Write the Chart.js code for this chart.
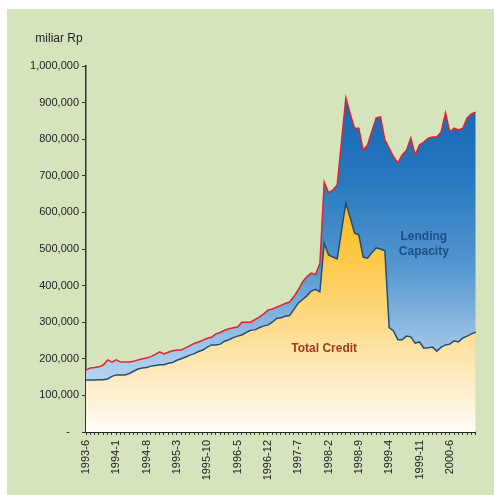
<!DOCTYPE html>
<html>
<head>
    <title>Total Credit and Lending Capacity</title>
    <script src="https://cdn.jsdelivr.net/npm/chart.js"></script>
    <style>
        body {
            margin: 0;
            padding: 0;
            background-color: #ffffff;
        }
        #wrap {
            position: relative;
            width: 494px;
            height: 495px;
        }
    </style>
</head>
<body>
    <div id="wrap">
        <canvas id="creditChart" width="494" height="495"></canvas>
    </div>

    <script>
        // monthly, 1993-6 .. 2000-12
        var months = [
            '1993-6','1993-7','1993-8','1993-9','1993-10','1993-11','1993-12',
            '1994-1','1994-2','1994-3','1994-4','1994-5','1994-6','1994-7','1994-8','1994-9','1994-10','1994-11','1994-12',
            '1995-1','1995-2','1995-3','1995-4','1995-5','1995-6','1995-7','1995-8','1995-9','1995-10','1995-11','1995-12',
            '1996-1','1996-2','1996-3','1996-4','1996-5','1996-6','1996-7','1996-8','1996-9','1996-10','1996-11','1996-12',
            '1997-1','1997-2','1997-3','1997-4','1997-5','1997-6','1997-7','1997-8','1997-9','1997-10','1997-11','1997-12',
            '1998-1','1998-2','1998-3','1998-4','1998-5','1998-6','1998-7','1998-8','1998-9','1998-10','1998-11','1998-12',
            '1999-1','1999-2','1999-3','1999-4','1999-5','1999-6','1999-7','1999-8','1999-9','1999-10','1999-11','1999-12',
            '2000-1','2000-2','2000-3','2000-4','2000-5','2000-6','2000-7','2000-8','2000-9','2000-10','2000-11','2000-12'
        ];

        // miliar Rp
        var totalCredit = [
            142000,142000,142000,143000,143000,145000,152000,156000,156000,156000,
            160000,166000,172000,175000,176000,180000,182000,184000,184000,188000,
            190000,196000,200000,205000,210000,214000,220000,224000,232000,238000,
            238000,240000,248000,252000,258000,262000,265000,272000,278000,279000,
            285000,290000,292000,300000,310000,312000,316000,318000,335000,352000,
            362000,372000,385000,390000,383000,516000,484000,478000,473000,550000,
            625000,585000,544000,538000,478000,475000,490000,503000,500000,495000,
            285000,276000,252000,252000,262000,260000,243000,246000,229000,230000,
            232000,221000,232000,238000,240000,249000,246000,257000,262000,268000,
            273000
        ];

        var lendingCapacity = [
            169000,175000,176000,178000,183000,197000,191000,197000,191000,191000,
            191000,193000,197000,200000,202000,206000,212000,219000,213000,218000,
            222000,224000,224000,230000,236000,242000,246000,251000,256000,259000,
            268000,272000,278000,282000,285000,287000,300000,300000,300000,307000,
            314000,322000,333000,336000,341000,346000,351000,355000,370000,388000,
            410000,425000,434000,430000,460000,683000,654000,661000,675000,795000,
            913000,870000,830000,830000,770000,784000,822000,858000,861000,798000,
            776000,752000,735000,757000,770000,803000,757000,784000,792000,803000,
            806000,806000,820000,872000,820000,830000,825000,830000,858000,869000,
            874000
        ];

        var labelEvery = 7;

        function creditFill(context) {
            var chart = context.chart;
            var area = chart.chartArea;
            if (!area) return '#ffd060';
            var g = chart.ctx.createLinearGradient(0, area.top, 0, area.bottom);
            g.addColorStop(0, '#ffad00');
            g.addColorStop(0.38, '#ffbb1c');
            g.addColorStop(0.6, '#fed062');
            g.addColorStop(0.78, '#fde3a6');
            g.addColorStop(0.9, '#fef0d2');
            g.addColorStop(1, '#fffdf8');
            return g;
        }

        function capacityFill(context) {
            var chart = context.chart;
            var area = chart.chartArea;
            if (!area) return '#4a90cc';
            var g = chart.ctx.createLinearGradient(0, area.top, 0, area.bottom);
            g.addColorStop(0, '#0f63b0');
            g.addColorStop(0.3, '#2677bf');
            g.addColorStop(0.55, '#5597d0');
            g.addColorStop(0.8, '#a9cbea');
            g.addColorStop(1, '#d6e7f6');
            return g;
        }

        var backdrop = {
            id: 'backdrop',
            beforeDraw: function (chart) {
                var ctx = chart.ctx;
                ctx.save();
                ctx.fillStyle = '#d6e4bd';
                ctx.fillRect(7, 9, chart.width - 7, chart.height - 9);
                ctx.restore();
            },
            afterDraw: function (chart) {
                var ctx = chart.ctx;
                var x = chart.scales.x;
                var y = chart.scales.y;
                ctx.save();
                ctx.fillStyle = '#222222';
                ctx.font = '12px "Liberation Sans", Arial, sans-serif';
                ctx.textAlign = 'center';
                ctx.textBaseline = 'middle';
                ctx.fillText('miliar Rp', 59, 39);

                ctx.font = 'bold 12px "Liberation Sans", Arial, sans-serif';
                ctx.fillStyle = '#1c4f86';
                ctx.fillText('Lending', x.getPixelForValue(78), y.getPixelForValue(535000));
                ctx.fillText('Capacity', x.getPixelForValue(78), y.getPixelForValue(492000));

                ctx.fillStyle = '#a03c1c';
                ctx.fillText('Total Credit', x.getPixelForValue(55), y.getPixelForValue(228000));
                ctx.restore();
            }
        };

        var creditChart = new Chart(document.getElementById('creditChart').getContext('2d'), {
            type: 'line',
            data: {
                labels: months,
                datasets: [{
                    label: 'Total Credit',
                    data: totalCredit,
                    borderColor: '#1d4e7e',
                    borderWidth: 1.5,
                    backgroundColor: creditFill,
                    fill: 'origin',
                    pointRadius: 0,
                    tension: 0
                }, {
                    label: 'Lending Capacity',
                    data: lendingCapacity,
                    borderColor: '#e0242c',
                    borderWidth: 1.5,
                    backgroundColor: capacityFill,
                    fill: 'origin',
                    pointRadius: 0,
                    tension: 0
                }]
            },
            options: {
                responsive: false,
                animation: false,
                layout: {
                    padding: { left: 0, top: 66, right: 18, bottom: 0 }
                },
                plugins: {
                    legend: { display: false },
                    tooltip: { enabled: false },
                    title: { display: false }
                },
                scales: {
                    x: {
                        offset: false,
                        border: { display: true, color: '#222222', width: 2 },
                        grid: {
                            display: true,
                            drawOnChartArea: false,
                            drawTicks: true,
                            tickLength: 3,
                            color: '#333333'
                        },
                        ticks: {
                            autoSkip: false,
                            maxRotation: 90,
                            minRotation: 90,
                            padding: 5,
                            color: '#222222',
                            font: { family: '"Liberation Sans", Arial, sans-serif', size: 11 },
                            callback: function (v, i) {
                                return i % labelEvery === 0 ? months[i] : '';
                            }
                        },
                        afterFit: function (scale) { scale.height = 63; }
                    },
                    y: {
                        min: 0,
                        max: 1000000,
                        border: { display: true, color: '#333333', width: 1.5 },
                        grid: {
                            display: true,
                            drawOnChartArea: false,
                            drawTicks: true,
                            tickLength: 4,
                            color: '#333333'
                        },
                        ticks: {
                            stepSize: 100000,
                            padding: 3,
                            color: '#222222',
                            font: { family: '"Liberation Sans", Arial, sans-serif', size: 11 },
                            callback: function (v) {
                                return v === 0 ? '-   ' : v.toLocaleString('en-US');
                            }
                        },
                        afterFit: function (scale) { scale.width = 86; }
                    }
                }
            },
            plugins: [backdrop]
        });
    </script>
</body>
</html>
